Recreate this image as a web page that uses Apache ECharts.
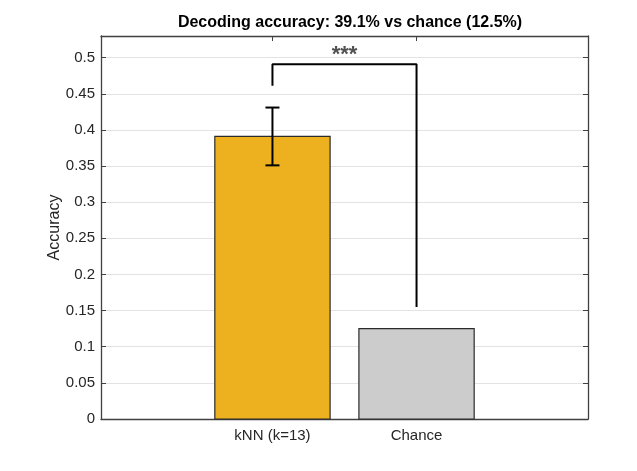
<!DOCTYPE html>
<html>
<head>
<meta charset="utf-8">
<script src="https://cdn.jsdelivr.net/npm/echarts@6/dist/echarts.min.js"></script>
<style>
html,body{margin:0;padding:0;background:#fff;}
#chart{width:637px;height:471px;}
</style>
</head>
<body>
<div id="chart"></div>
<script>
// data
var categories = ['kNN (k=13)', 'Chance'];
var positions = [1, 2];
var accuracy = [0.391, 0.125];
var errLow = [0.351, null];
var errHigh = [0.431, null];
var barColors = ['#EDB120', '#CCCCCC'];
// significance bracket: left leg bottom, bar height, right leg bottom
var bracketLeft = 0.461;
var bracketTop = 0.491;
var bracketRight = 0.155;
var sigLabel = '***';

var font = '"Liberation Sans", Arial, Helvetica, sans-serif';
var axisCol = '#404040';

var myChart = echarts.init(document.getElementById('chart'), null, {renderer: 'canvas'});

var barData = positions.map(function (p, i) { return [p, accuracy[i], i]; });
var errData = [];
positions.forEach(function (p, i) {
	if (errLow[i] != null) errData.push([p, errLow[i], errHigh[i]]);
});
var bracketData = [
	[positions[0], bracketLeft],
	[positions[0], bracketTop],
	[positions[1], bracketTop],
	[positions[1], bracketRight]
];

var xBase = {
	type: 'value',
	min: -0.19,
	max: 3.19,
	splitLine: {show: false},
	axisLine: {show: true, onZero: false, lineStyle: {color: axisCol, width: 1.3}},
	axisTick: {show: true, inside: true, length: 5, customValues: positions, lineStyle: {color: axisCol}}
};
var yBase = {
	type: 'value',
	min: 0,
	max: 0.53,
	interval: 0.05,
	axisLine: {show: true, onZero: false, lineStyle: {color: axisCol, width: 1.3}},
	axisTick: {show: true, inside: true, length: 5, lineStyle: {color: axisCol}}
};

var option = {
	animation: false,
	title: {
		text: 'Decoding accuracy: 39.1% vs chance (12.5%)',
		left: 345,
		top: 10,
		textAlign: 'center',
		textStyle: {fontFamily: font, fontSize: 16, fontWeight: 'bold', color: '#000'}
	},
	grid: {left: 101, right: 49, top: 36, bottom: 52},
	xAxis: [
		Object.assign({}, xBase, {
			position: 'bottom',
			axisLabel: {
				customValues: positions,
				margin: 9,
				fontFamily: font,
				fontSize: 15,
				color: '#262626',
				formatter: function (v) { return categories[positions.indexOf(v)] || ''; }
			}
		}),
		Object.assign({}, xBase, {position: 'top', axisLabel: {show: false}})
	],
	yAxis: [
		Object.assign({}, yBase, {
			position: 'left',
			name: 'Accuracy',
			nameLocation: 'middle',
			nameGap: 38,
			nameMoveOverlap: false,
			nameTextStyle: {fontFamily: font, fontSize: 16, color: '#262626'},
			splitLine: {show: true, lineStyle: {color: '#e3e3e3', width: 1}},
			axisLabel: {margin: 6, fontFamily: font, fontSize: 15, color: '#262626', showMaxLabel: false}
		}),
		Object.assign({}, yBase, {
			position: 'right',
			splitLine: {show: false},
			axisLabel: {show: false}
		})
	],
	series: [
		{
			type: 'custom',
			xAxisIndex: 0,
			yAxisIndex: 0,
			data: barData,
			renderItem: function (params, api) {
				var x = api.value(0), y = api.value(1), i = api.value(2);
				var p0 = api.coord([x - 0.4, y]);
				var p1 = api.coord([x + 0.4, 0]);
				return {
					type: 'rect',
					shape: {x: p0[0], y: p0[1], width: p1[0] - p0[0], height: p1[1] - p0[1]},
					style: {fill: barColors[i], stroke: '#2b2b2b', lineWidth: 1.2}
				};
			},
			z: 2
		},
		{
			type: 'custom',
			xAxisIndex: 0,
			yAxisIndex: 0,
			data: errData,
			renderItem: function (params, api) {
				var x = api.value(0);
				var lo = api.coord([x, api.value(1)]);
				var hi = api.coord([x, api.value(2)]);
				var cap = 7;
				var st = {stroke: '#000', lineWidth: 2};
				return {
					type: 'group',
					children: [
						{type: 'line', shape: {x1: lo[0], y1: lo[1], x2: hi[0], y2: hi[1]}, style: st},
						{type: 'line', shape: {x1: lo[0] - cap, y1: lo[1], x2: lo[0] + cap, y2: lo[1]}, style: st},
						{type: 'line', shape: {x1: hi[0] - cap, y1: hi[1], x2: hi[0] + cap, y2: hi[1]}, style: st}
					]
				};
			},
			z: 3
		},
		{
			type: 'line',
			xAxisIndex: 0,
			yAxisIndex: 0,
			data: bracketData,
			symbol: 'none',
			lineStyle: {color: '#000', width: 2},
			z: 3
		},
		{
			type: 'scatter',
			xAxisIndex: 0,
			yAxisIndex: 0,
			data: [[(positions[0] + positions[1]) / 2, bracketTop]],
			symbolSize: 0,
			label: {
				show: true,
				position: 'top',
				distance: -2,
				formatter: sigLabel,
				fontFamily: font,
				fontSize: 22,
				fontWeight: 'bold',
				color: '#262626'
			},
			z: 4
		}
	]
};
myChart.setOption(option);
</script>
</body>
</html>
